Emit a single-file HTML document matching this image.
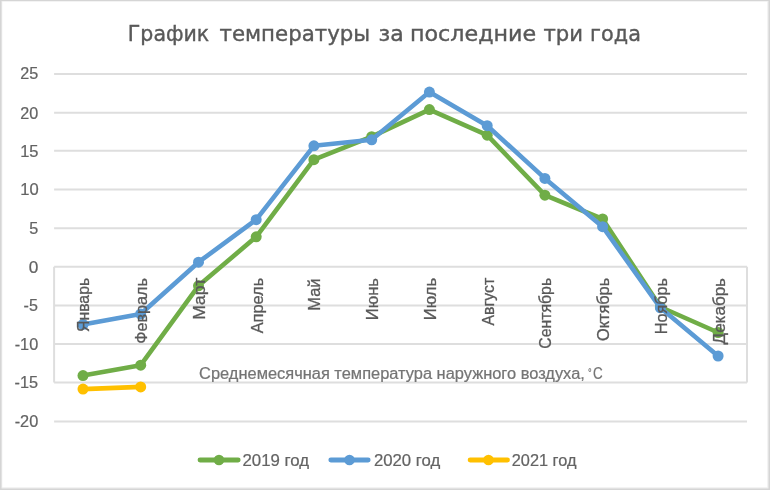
<!DOCTYPE html>
<html lang="ru"><head><meta charset="utf-8"><title>График температуры за последние три года</title>
<style>html,body{margin:0;padding:0;background:#fff}svg{display:block}text{font-family:"Liberation Sans",sans-serif}</style></head>
<body>
<svg width="770" height="490" viewBox="0 0 770 490">
<defs><filter id="soft" filterUnits="userSpaceOnUse" x="-20" y="-20" width="810" height="530"><feGaussianBlur stdDeviation="0.7"/></filter></defs>
<rect x="-20" y="-20" width="810" height="530" fill="#ffffff"/>
<g filter="url(#soft)">
<rect x="-20" y="-20" width="810" height="530" fill="#ffffff"/>
<path fill="#efefef" fill-rule="evenodd" d="M-20 -20H790V510H-20Z M2.3 1.8V487.3H767.3V1.8Z"/>
<path fill="#d5d5d5" fill-rule="evenodd" d="M-20 -20H790V510H-20Z M1.5 1.1V488.6H768.5V1.1Z"/>
<g stroke="#dedede" stroke-width="2" fill="none">
<line x1="54.1" y1="421.5" x2="747.0" y2="421.5"/>
<line x1="54.1" y1="382.5" x2="747.0" y2="382.5"/>
<line x1="54.1" y1="344.1" x2="747.0" y2="344.1"/>
<line x1="54.1" y1="305.5" x2="747.0" y2="305.5"/>
<line x1="54.1" y1="266.8" x2="747.0" y2="266.8"/>
<line x1="54.1" y1="228.3" x2="747.0" y2="228.3"/>
<line x1="54.1" y1="189.4" x2="747.0" y2="189.4"/>
<line x1="54.1" y1="150.8" x2="747.0" y2="150.8"/>
<line x1="54.1" y1="112.7" x2="747.0" y2="112.7"/>
<line x1="54.1" y1="73.9" x2="747.0" y2="73.9"/>
<line x1="54.1" y1="266.8" x2="54.1" y2="382.5"/>
<line x1="747.0" y1="266.8" x2="747.0" y2="382.5"/>
</g>
<g stroke="#70ad47" fill="#70ad47"><polyline points="83.0,375.6 140.7,365.2 198.5,285.8 256.2,236.8 313.9,159.7 371.7,136.7 429.4,109.6 487.2,135.2 544.9,195.2 602.6,219.0 660.4,307.0 718.1,332.5" fill="none" stroke-width="4.6" stroke-linejoin="round" stroke-linecap="round"/><g stroke="none"><circle cx="83.0" cy="375.6" r="5.5"/><circle cx="140.7" cy="365.2" r="5.5"/><circle cx="198.5" cy="285.8" r="5.5"/><circle cx="256.2" cy="236.8" r="5.5"/><circle cx="313.9" cy="159.7" r="5.5"/><circle cx="371.7" cy="136.7" r="5.5"/><circle cx="429.4" cy="109.6" r="5.5"/><circle cx="487.2" cy="135.2" r="5.5"/><circle cx="544.9" cy="195.2" r="5.5"/><circle cx="602.6" cy="219.0" r="5.5"/><circle cx="660.4" cy="307.0" r="5.5"/><circle cx="718.1" cy="332.5" r="5.5"/></g></g>
<g stroke="#5b9bd5" fill="#5b9bd5"><polyline points="83.0,324.4 140.7,314.0 198.5,262.2 256.2,219.7 313.9,145.8 371.7,139.8 429.4,92.1 487.2,125.7 544.9,178.4 602.6,226.7 660.4,307.8 718.1,356.0" fill="none" stroke-width="4.6" stroke-linejoin="round" stroke-linecap="round"/><g stroke="none"><circle cx="83.0" cy="324.4" r="5.5"/><circle cx="140.7" cy="314.0" r="5.5"/><circle cx="198.5" cy="262.2" r="5.5"/><circle cx="256.2" cy="219.7" r="5.5"/><circle cx="313.9" cy="145.8" r="5.5"/><circle cx="371.7" cy="139.8" r="5.5"/><circle cx="429.4" cy="92.1" r="5.5"/><circle cx="487.2" cy="125.7" r="5.5"/><circle cx="544.9" cy="178.4" r="5.5"/><circle cx="602.6" cy="226.7" r="5.5"/><circle cx="660.4" cy="307.8" r="5.5"/><circle cx="718.1" cy="356.0" r="5.5"/></g></g>
<g stroke="#ffc000" fill="#ffc000"><polyline points="83.0,389.1 140.7,386.9" fill="none" stroke-width="4.6" stroke-linejoin="round" stroke-linecap="round"/><g stroke="none"><circle cx="83.0" cy="389.1" r="5.5"/><circle cx="140.7" cy="386.9" r="5.5"/></g></g>
<g stroke="#70ad47" fill="#70ad47"><line x1="200.0" y1="460" x2="238.2" y2="460" stroke-width="4.8" stroke-linecap="round"/><circle cx="219.0" cy="460" r="5.3" stroke="none"/></g>
<g stroke="#5b9bd5" fill="#5b9bd5"><line x1="330.79999999999995" y1="460" x2="368.20000000000005" y2="460" stroke-width="4.8" stroke-linecap="round"/><circle cx="349.5" cy="460" r="5.3" stroke="none"/></g>
<g stroke="#ffc000" fill="#ffc000"><line x1="470.09999999999997" y1="460" x2="507.5" y2="460" stroke-width="4.8" stroke-linecap="round"/><circle cx="488.5" cy="460" r="5.3" stroke="none"/></g>
<g font-family='"Liberation Sans", sans-serif' fill="#595959">
<text style="font-family:&quot;DejaVu Sans&quot;,sans-serif" fill="#595959" stroke="#595959" stroke-width="0.4"><tspan x="127.83" y="41.00" font-size="22.0" textLength="81.44" lengthAdjust="spacingAndGlyphs">График</tspan> <tspan x="219.50" y="41.00" font-size="22.0" textLength="150.63" lengthAdjust="spacingAndGlyphs">температуры</tspan> <tspan x="378.50" y="41.00" font-size="22.0" textLength="25.18" lengthAdjust="spacingAndGlyphs">за</tspan> <tspan x="409.98" y="41.00" font-size="22.0" textLength="126.26" lengthAdjust="spacingAndGlyphs">последние</tspan> <tspan x="543.50" y="41.00" font-size="22.0" textLength="39.55" lengthAdjust="spacingAndGlyphs">три</tspan> <tspan x="590.11" y="41.00" font-size="22.0" textLength="50.79" lengthAdjust="spacingAndGlyphs">года</tspan></text>
<text fill="#646464" stroke="#646464" stroke-width="0.22" x="20.30" y="78.90" font-size="16.2" textLength="18.00" lengthAdjust="spacingAndGlyphs">25</text>
<text fill="#646464" stroke="#646464" stroke-width="0.22" x="20.30" y="118.50" font-size="16.2" textLength="18.00" lengthAdjust="spacingAndGlyphs">20</text>
<text fill="#646464" stroke="#646464" stroke-width="0.22" x="20.18" y="156.60" font-size="16.2" textLength="18.32" lengthAdjust="spacingAndGlyphs">15</text>
<text fill="#646464" stroke="#646464" stroke-width="0.22" x="20.18" y="195.20" font-size="16.2" textLength="18.43" lengthAdjust="spacingAndGlyphs">10</text>
<text fill="#646464" stroke="#646464" stroke-width="0.22" x="29.30" y="234.10" font-size="16.2" textLength="9.00" lengthAdjust="spacingAndGlyphs">5</text>
<text fill="#646464" stroke="#646464" stroke-width="0.22" x="28.80" y="272.60" font-size="16.2" textLength="9.60" lengthAdjust="spacingAndGlyphs">0</text>
<text fill="#646464" stroke="#646464" stroke-width="0.22" x="23.60" y="311.30" font-size="16.2" textLength="14.30" lengthAdjust="spacingAndGlyphs">-5</text>
<text fill="#646464" stroke="#646464" stroke-width="0.22" x="14.70" y="349.90" font-size="16.2" textLength="23.50" lengthAdjust="spacingAndGlyphs">-10</text>
<text fill="#646464" stroke="#646464" stroke-width="0.22" x="14.60" y="388.30" font-size="16.2" textLength="23.50" lengthAdjust="spacingAndGlyphs">-15</text>
<text fill="#646464" stroke="#646464" stroke-width="0.22" x="14.70" y="427.30" font-size="16.2" textLength="23.60" lengthAdjust="spacingAndGlyphs">-20</text>
<text fill="#747474" stroke="#747474" stroke-width="0.22"><tspan x="199.10" y="379.20" font-size="15.8" textLength="385.74" lengthAdjust="spacingAndGlyphs">Среднемесячная температура наружного воздуха,</tspan> <tspan x="588.00" y="376.80" font-size="12" textLength="3.65" lengthAdjust="spacingAndGlyphs">°</tspan><tspan x="593.00" y="379.20" font-size="15.8" textLength="9.75" lengthAdjust="spacingAndGlyphs">C</tspan></text>
<text fill="#646464" stroke="#646464" stroke-width="0.22" x="242.50" y="466.00" font-size="16.2" textLength="66.62" lengthAdjust="spacingAndGlyphs">2019 год</text>
<text fill="#646464" stroke="#646464" stroke-width="0.22" x="373.90" y="466.00" font-size="16.2" textLength="66.33" lengthAdjust="spacingAndGlyphs">2020 год</text>
<text fill="#646464" stroke="#646464" stroke-width="0.22" x="511.80" y="466.00" font-size="16.2" textLength="64.64" lengthAdjust="spacingAndGlyphs">2021 год</text>
<text fill="#595959" stroke="#595959" stroke-width="0.3" transform="translate(89.47 332.00) rotate(-90)" x="0" y="0" font-size="15.7" textLength="54.17" lengthAdjust="spacingAndGlyphs">Январь</text>
<text fill="#595959" stroke="#595959" stroke-width="0.3" transform="translate(147.21 343.80) rotate(-90)" x="0" y="0" font-size="15.7" textLength="65.68" lengthAdjust="spacingAndGlyphs">Февраль</text>
<text fill="#595959" stroke="#595959" stroke-width="0.3" transform="translate(204.95 319.72) rotate(-90)" x="0" y="0" font-size="15.7" textLength="41.92" lengthAdjust="spacingAndGlyphs">Март</text>
<text fill="#595959" stroke="#595959" stroke-width="0.3" transform="translate(262.70 333.30) rotate(-90)" x="0" y="0" font-size="15.7" textLength="55.48" lengthAdjust="spacingAndGlyphs">Апрель</text>
<text fill="#595959" stroke="#595959" stroke-width="0.3" transform="translate(320.44 310.75) rotate(-90)" x="0" y="0" font-size="15.7" textLength="32.25" lengthAdjust="spacingAndGlyphs">Май</text>
<text fill="#595959" stroke="#595959" stroke-width="0.3" transform="translate(378.18 320.16) rotate(-90)" x="0" y="0" font-size="15.7" textLength="42.14" lengthAdjust="spacingAndGlyphs">Июнь</text>
<text fill="#595959" stroke="#595959" stroke-width="0.3" transform="translate(435.92 320.26) rotate(-90)" x="0" y="0" font-size="15.7" textLength="42.44" lengthAdjust="spacingAndGlyphs">Июль</text>
<text fill="#595959" stroke="#595959" stroke-width="0.3" transform="translate(493.66 325.50) rotate(-90)" x="0" y="0" font-size="15.7" textLength="47.69" lengthAdjust="spacingAndGlyphs">Август</text>
<text fill="#595959" stroke="#595959" stroke-width="0.3" transform="translate(551.40 348.80) rotate(-90)" x="0" y="0" font-size="15.7" textLength="70.97" lengthAdjust="spacingAndGlyphs">Сентябрь</text>
<text fill="#595959" stroke="#595959" stroke-width="0.3" transform="translate(609.15 341.00) rotate(-90)" x="0" y="0" font-size="15.7" textLength="63.18" lengthAdjust="spacingAndGlyphs">Октябрь</text>
<text fill="#595959" stroke="#595959" stroke-width="0.3" transform="translate(666.89 334.33) rotate(-90)" x="0" y="0" font-size="15.7" textLength="56.31" lengthAdjust="spacingAndGlyphs">Ноябрь</text>
<text fill="#595959" stroke="#595959" stroke-width="0.3" transform="translate(724.63 344.40) rotate(-90)" x="0" y="0" font-size="15.7" textLength="66.39" lengthAdjust="spacingAndGlyphs">Декабрь</text>
</g></g></svg>
</body></html>
